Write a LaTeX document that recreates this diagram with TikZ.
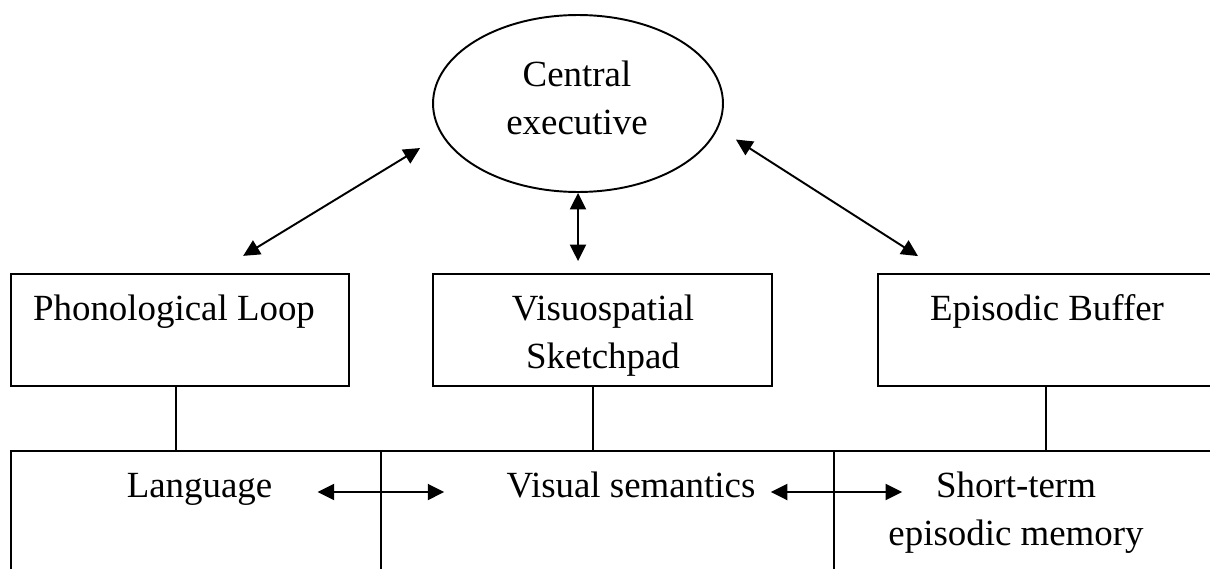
\documentclass[tikz,border=0pt]{standalone}
\usepackage{fontspec}
\setmainfont{Liberation Serif}
\usetikzlibrary{shapes.geometric}
\usetikzlibrary{arrows.meta}
\usetikzlibrary{calc}

\tikzset{
  wmbox/.style={draw, line width=1.1pt, rectangle, inner sep=0pt},
  wmtext/.style={inner sep=0pt, font=\fontsize{21}{27.3}\selectfont, align=center},
  wmarrow/.style={line width=1.1pt,
    {Triangle[length=0.33cm,width=0.32cm]}-{Triangle[length=0.33cm,width=0.32cm]}},
}

\begin{document}
\begin{tikzpicture}[x=0.02cm, y=-0.02cm]
    \useasboundingbox (0,0) rectangle (1210,568);
    \clip (0,0) rectangle (1210,568);
    % central executive
    \node[draw, ellipse, line width=1.1pt, inner sep=0pt,
      minimum width=5.8cm, minimum height=3.54cm] (ce) at (578,103.5) {};
    \node[wmtext] (ce-text) at (577,97.5) {Central\\executive};
    % the three slave systems
    \node[wmbox, minimum width=6.76cm, minimum height=2.24cm] (phon) at (180,330) {};
    \node[wmtext, anchor=base] (phon-text) at (174,320) {Phonological Loop};
    \node[wmbox, minimum width=6.78cm, minimum height=2.24cm] (vis) at (602.5,330) {};
    \node[wmtext] (vis-text) at (603,335.4) {Visuospatial\\Sketchpad};
    \node[wmbox, minimum width=6.74cm, minimum height=2.24cm] (eb) at (1046.5,330) {};
    \node[wmtext, anchor=base] (eb-text) at (1047,320) {Episodic Buffer};
    % long-term stores
    \node[wmbox, minimum width=7.4cm, minimum height=3.38cm] (c1) at (196,535.5) {};
    \node[wmbox, minimum width=9.06cm, minimum height=3.38cm] (c2) at (607.5,535.5) {};
    \node[wmbox, minimum width=9.12cm, minimum height=3.38cm] (c3) at (1062,535.5) {};
    \node[wmtext, anchor=base] (lang) at (199.5,497) {Language};
    \node[wmtext, anchor=base] (vsem) at (631,497) {Visual semantics};
    \node[wmtext] (stem) at (1016,512.4) {Short-term\\episodic memory};
    % arrows to and from the central executive
    \draw[wmarrow, shorten <=0.5cm, shorten >=0.66cm] (ce.193) -- ([xshift=0.7cm]phon.north);
    \draw[wmarrow, shorten >=0.24cm] (ce.south) -- (ce.south |- vis.north);
    \draw[wmarrow, shorten <=0.42cm, shorten >=0.63cm] (ce.350) -- ([xshift=-2.04cm]eb.north);
    % links down to the stores
    \draw[line width=1.1pt] ([xshift=-0.08cm]phon.south) -- ([xshift=-0.08cm]phon.south |- c1.north);
    \draw[line width=1.1pt] ([xshift=-0.19cm]vis.south) -- ([xshift=-0.19cm]vis.south |- c2.north);
    \draw[line width=1.1pt] ([xshift=-0.01cm]eb.south) -- ([xshift=-0.01cm]eb.south |- c3.north);
    \draw[wmarrow] ([xshift=0.9cm,yshift=0.1cm]lang.base east)
      -- ([xshift=-1.24cm,yshift=0.1cm]vsem.base west);
    \draw[wmarrow] ([xshift=0.3cm,yshift=0.1cm]vsem.base east)
      -- ($(stem.west |- vsem.base)+(0.28cm,0.1cm)$);
\end{tikzpicture}
\end{document}
